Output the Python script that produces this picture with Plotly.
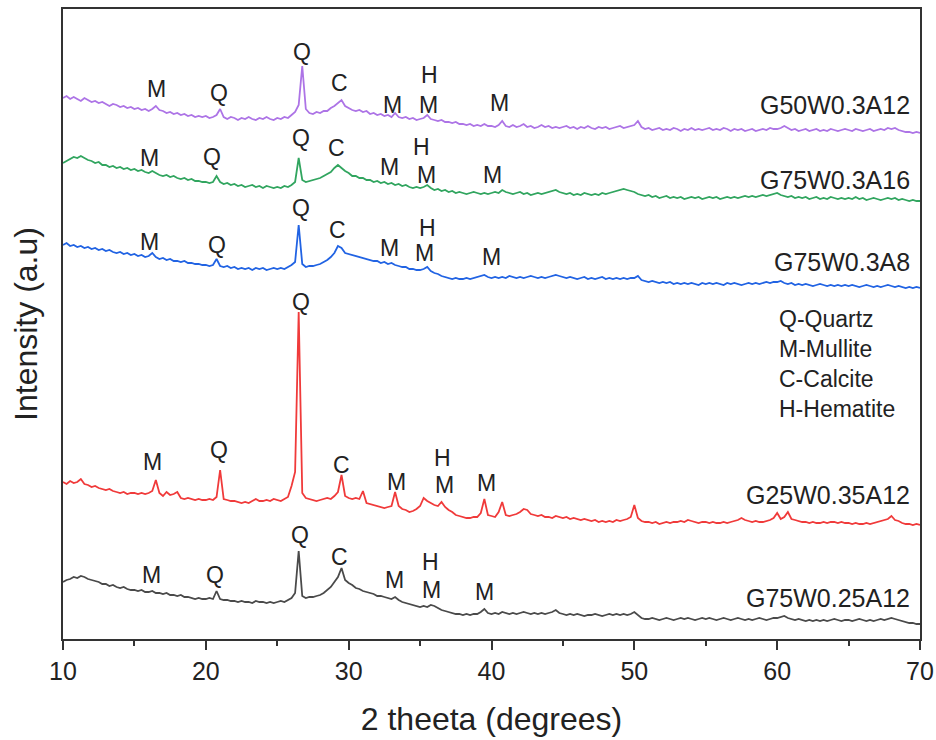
import plotly.graph_objects as go

# 2-theta sampling: 10 to 70 degrees in 0.25 degree steps (241 points)
TWO_THETA = [10 + 0.25 * i for i in range(241)]

# Stacked intensities (a.u.), one row per 5 degrees
G50W03A12 = [
    541, 543, 540, 542, 540, 538, 541, 539, 537, 538, 536, 537, 535, 533, 535, 534, 532, 533, 531, 532,
    530, 531, 529, 530, 528, 530, 533, 529, 528, 526, 527, 525, 526, 524, 525, 523, 524, 522, 523, 522,
    523, 521, 522, 524, 530, 522, 520, 522, 521, 519, 521, 520, 522, 520, 519, 521, 520, 522, 520, 519,
    521, 520, 522, 521, 524, 527, 534, 573, 530, 526, 525, 527, 526, 528, 528, 531, 533, 536, 539, 533,
    531, 529, 528, 529, 527, 528, 525, 526, 524, 525, 523, 524, 522, 526, 522, 521, 522, 520, 521, 519,
    520, 521, 524, 520, 519, 518, 519, 517, 517, 516, 517, 515, 515, 514, 515, 513, 514, 513, 515, 513,
    513, 512, 514, 518, 513, 512, 514, 512, 513, 515, 512, 513, 511, 512, 514, 512, 513, 511, 512, 511,
    512, 513, 511, 512, 510, 512, 511, 513, 511, 510, 512, 511, 512, 510, 511, 512, 513, 511, 512, 513,
    514, 518, 512, 510, 511, 509, 510, 511, 509, 510, 509, 511, 510, 508, 510, 509, 511, 509, 510, 509,
    510, 511, 509, 510, 509, 511, 510, 508, 510, 509, 510, 508, 509, 510, 508, 509, 510, 509, 511, 510,
    510, 511, 513, 511, 509, 510, 508, 509, 510, 508, 509, 510, 508, 509, 508, 510, 509, 508, 509, 510,
    509, 508, 510, 509, 508, 509, 510, 508, 509, 510, 509, 511, 510, 511, 509, 508, 507, 507, 506, 507,
    506,
]

G75W03A16 = [
    476, 478, 480, 482, 481, 483, 481, 479, 478, 476, 477, 474, 474, 472, 473, 471, 472, 470, 471, 469,
    470, 468, 469, 467, 466, 468, 466, 464, 463, 464, 462, 463, 461, 460, 461, 459, 460, 458, 458, 457,
    457, 456, 457, 463, 457, 455, 456, 454, 455, 453, 454, 452, 453, 454, 452, 453, 451, 453, 452, 451,
    452, 451, 453, 452, 454, 457, 481, 459, 457, 458, 459, 460, 461, 463, 465, 467, 471, 474, 471, 468,
    466, 463, 463, 461, 461, 459, 459, 457, 458, 456, 457, 455, 456, 454, 455, 453, 454, 452, 451, 452,
    451, 452, 454, 451, 449, 450, 448, 449, 447, 448, 446, 447, 446, 445, 446, 447, 446, 445, 446, 445,
    446, 447, 446, 449, 447, 446, 445, 446, 447, 445, 446, 444, 445, 446, 445, 446, 447, 448, 449, 447,
    446, 445, 446, 444, 445, 444, 446, 445, 444, 445, 444, 446, 445, 446, 447, 448, 449, 450, 449, 448,
    447, 445, 444, 443, 444, 442, 443, 441, 442, 443, 441, 442, 441, 442, 440, 441, 442, 441, 442, 440,
    441, 442, 441, 442, 440, 441, 442, 441, 442, 441, 442, 443, 442, 443, 442, 443, 444, 443, 444, 445,
    446, 444, 443, 442, 443, 441, 442, 441, 442, 440, 441, 442, 440, 441, 440, 442, 441, 440, 441, 440,
    441, 440, 442, 440, 441, 439, 440, 441, 440, 439, 440, 441, 440, 441, 439, 440, 439, 438, 439, 438,
    438,
]

G75W03A8 = [
    394, 396, 393, 394, 392, 393, 391, 392, 390, 391, 389, 390, 388, 389, 387, 386, 387, 385, 386, 384,
    385, 383, 384, 382, 383, 386, 382, 380, 381, 379, 380, 378, 378, 377, 378, 376, 376, 375, 375, 374,
    374, 373, 374, 380, 373, 372, 373, 371, 372, 370, 371, 370, 371, 369, 371, 370, 371, 369, 370, 371,
    370, 371, 370, 372, 374, 377, 414, 375, 372, 373, 373, 374, 375, 377, 379, 382, 386, 393, 391, 386,
    385, 384, 383, 382, 381, 380, 379, 378, 378, 376, 377, 375, 376, 374, 373, 372, 372, 370, 370, 369,
    369, 370, 372, 368, 366, 365, 363, 362, 361, 360, 361, 360, 360, 361, 360, 361, 362, 363, 364, 362,
    361, 362, 361, 362, 361, 363, 362, 361, 362, 361, 362, 363, 362, 361, 362, 361, 362, 363, 364, 363,
    362, 361, 362, 361, 360, 361, 362, 360, 361, 360, 361, 362, 360, 361, 360, 361, 360, 361, 360, 361,
    361, 363, 359, 358, 357, 358, 357, 356, 357, 356, 357, 355, 356, 355, 356, 355, 356, 355, 354, 356,
    355, 356, 355, 356, 355, 354, 356, 355, 356, 355, 354, 355, 356, 355, 356, 355, 356, 357, 356, 357,
    357, 358, 356, 355, 356, 354, 355, 354, 355, 354, 353, 354, 355, 354, 353, 354, 353, 354, 353, 354,
    353, 354, 353, 352, 353, 354, 353, 352, 353, 352, 353, 354, 353, 352, 353, 352, 351, 352, 351, 352,
    351,
]

G25W035A12 = [
    157, 155, 158, 156, 157, 160, 155, 154, 152, 153, 151, 150, 149, 150, 148, 147, 146, 147, 145, 146,
    146, 145, 146, 145, 146, 148, 159, 146, 143, 147, 144, 145, 147, 141, 140, 141, 140, 139, 140, 139,
    139, 140, 139, 142, 169, 140, 139, 138, 138, 137, 136, 137, 136, 138, 140, 138, 138, 139, 138, 140,
    139, 138, 140, 142, 153, 167, 327, 146, 141, 140, 139, 138, 139, 140, 141, 140, 143, 147, 164, 143,
    141, 140, 141, 140, 148, 136, 135, 134, 133, 132, 131, 132, 133, 147, 133, 130, 129, 127, 128, 130,
    133, 141, 138, 136, 134, 133, 137, 132, 129, 127, 124, 123, 122, 121, 121, 122, 122, 126, 140, 124,
    123, 122, 127, 137, 124, 123, 124, 125, 127, 130, 129, 125, 124, 123, 124, 122, 122, 121, 123, 122,
    121, 122, 120, 121, 120, 119, 120, 119, 118, 119, 117, 118, 117, 118, 117, 119, 118, 119, 120, 122,
    134, 121, 118, 117, 117, 116, 117, 115, 116, 117, 116, 117, 117, 118, 117, 119, 118, 117, 116, 117,
    117, 116, 117, 116, 116, 117, 116, 117, 118, 119, 121, 119, 118, 117, 118, 117, 117, 118, 119, 121,
    126, 120, 122, 127, 120, 119, 118, 117, 117, 116, 117, 116, 116, 117, 116, 117, 117, 116, 117, 116,
    116, 115, 116, 115, 115, 116, 115, 116, 117, 118, 119, 120, 123, 119, 118, 116, 115, 115, 114, 115,
    114,
]

G75W025A12 = [
    57, 59, 60, 62, 61, 63, 62, 60, 59, 58, 57, 55, 55, 53, 54, 52, 51, 52, 50, 49,
    49, 48, 49, 47, 47, 48, 46, 46, 45, 46, 44, 44, 43, 44, 42, 42, 41, 40, 41, 40,
    40, 41, 40, 48, 40, 39, 39, 38, 38, 37, 38, 37, 37, 36, 38, 37, 37, 36, 37, 36,
    37, 38, 37, 39, 41, 46, 88, 43, 41, 42, 42, 43, 44, 46, 49, 52, 57, 62, 71, 59,
    56, 54, 51, 50, 48, 47, 46, 45, 43, 43, 42, 41, 40, 42, 39, 37, 36, 35, 34, 33,
    32, 33, 32, 34, 33, 31, 29, 28, 27, 26, 25, 25, 24, 25, 24, 25, 25, 27, 30, 26,
    25, 26, 25, 27, 26, 25, 26, 25, 26, 27, 26, 25, 26, 25, 26, 25, 26, 27, 29, 26,
    25, 24, 25, 24, 25, 24, 23, 24, 24, 25, 24, 23, 24, 25, 24, 25, 24, 25, 24, 25,
    27, 24, 21, 20, 20, 21, 20, 19, 20, 21, 20, 19, 20, 21, 20, 21, 20, 19, 20, 21,
    20, 21, 20, 19, 20, 21, 20, 19, 20, 21, 20, 19, 20, 19, 20, 21, 20, 19, 20, 21,
    21, 22, 23, 21, 20, 19, 20, 19, 18, 19, 18, 19, 18, 19, 18, 19, 20, 19, 18, 19,
    19, 18, 19, 20, 19, 18, 19, 18, 19, 20, 19, 20, 21, 20, 19, 18, 17, 16, 16, 15,
    15,
]

SERIES = [
    ("G50W0.3A12", G50W03A12, "#ad74e6"),
    ("G75W0.3A16", G75W03A16, "#31a55f"),
    ("G75W0.3A8", G75W03A8, "#2163e3"),
    ("G25W0.35A12", G25W035A12, "#f03a3a"),
    ("G75W0.25A12", G75W025A12, "#4a4a4a"),
]

# Sample name labels: (text, 2theta of right edge, intensity)
SAMPLE_LABELS = [
    ("G50W0.3A12", 69.45, 534),
    ("G75W0.3A16", 69.45, 459),
    ("G75W0.3A8", 69.45, 377),
    ("G25W0.35A12", 69.45, 144),
    ("G75W0.25A12", 69.45, 41),
]

# Phase markers: (letter, 2theta, intensity)
PHASE_MARKS = [
    ("M", 16.52, 550), ("Q", 20.93, 546), ("Q", 26.75, 587), ("C", 29.35, 556),
    ("M", 33.06, 534), ("H", 35.65, 564), ("M", 35.58, 534), ("M", 40.56, 536),
    ("M", 16.03, 481), ("Q", 20.44, 482), ("Q", 26.68, 501), ("C", 29.13, 491),
    ("M", 32.85, 472), ("H", 35.09, 492), ("M", 35.44, 464), ("M", 40.07, 464),
    ("M", 16.03, 397), ("Q", 20.79, 394), ("Q", 26.68, 431), ("C", 29.20, 409),
    ("M", 32.85, 391), ("H", 35.51, 411), ("M", 35.30, 386), ("M", 40.00, 382),
    ("M", 16.24, 177), ("Q", 20.93, 189), ("Q", 26.68, 337), ("C", 29.49, 174),
    ("M", 33.34, 157), ("H", 36.56, 181), ("M", 36.70, 154), ("M", 39.65, 156),
    ("M", 16.17, 64), ("Q", 20.65, 64), ("Q", 26.61, 104), ("C", 29.35, 82),
    ("M", 33.20, 59), ("H", 35.72, 77), ("M", 35.79, 49), ("M", 39.50, 47),
]

PHASE_KEY = ["Q-Quartz", "M-Mullite", "C-Calcite", "H-Hematite"]

FONT = "Liberation Sans, Arial, Helvetica, sans-serif"
TEXT = "#222222"
AXIS = "#333333"

fig = go.Figure()
for name, values, color in SERIES:
    fig.add_trace(go.Scatter(
        x=TWO_THETA, y=values, mode="lines", name=name,
        line=dict(color=color, width=1.8), showlegend=False,
    ))

for text, x, y in SAMPLE_LABELS:
    fig.add_annotation(x=x, y=y, text=text, showarrow=False,
                       xanchor="right", yanchor="middle",
                       font=dict(family=FONT, size=25, color=TEXT))

for text, x, y in PHASE_MARKS:
    fig.add_annotation(x=x, y=y, text=text, showarrow=False,
                       xanchor="center", yanchor="middle",
                       font=dict(family=FONT, size=23, color=TEXT))

fig.add_annotation(x=60.0, y=275, text="<br>".join(PHASE_KEY), showarrow=False,
                   xanchor="left", yanchor="middle", align="left",
                   font=dict(family=FONT, size=23, color=TEXT))

fig.update_layout(
    width=936, height=740,
    margin=dict(l=63, r=16, t=9, b=101, autoexpand=False),
    paper_bgcolor="white", plot_bgcolor="white",
    font=dict(family=FONT, color=TEXT),
    xaxis=dict(
        range=[10, 70], dtick=10, tick0=10, automargin=False,
        ticks="outside", ticklen=9, tickwidth=2, tickcolor=AXIS,
        minor=dict(dtick=5, ticks="outside", ticklen=5, tickwidth=2, tickcolor=AXIS),
        showline=True, linecolor=AXIS, linewidth=2, mirror=True,
        showgrid=False, zeroline=False,
        tickfont=dict(family=FONT, size=25, color=TEXT),
        title=dict(text="2 theeta (degrees)", font=dict(family=FONT, size=32, color=TEXT), standoff=24),
    ),
    yaxis=dict(
        range=[0, 630], showticklabels=False, ticks="", automargin=False,
        showline=True, linecolor=AXIS, linewidth=2, mirror=True,
        showgrid=False, zeroline=False,
        title=dict(text="Intensity (a.u)", font=dict(family=FONT, size=32, color=TEXT), standoff=14),
    ),
)

fig.write_html("out.html")
